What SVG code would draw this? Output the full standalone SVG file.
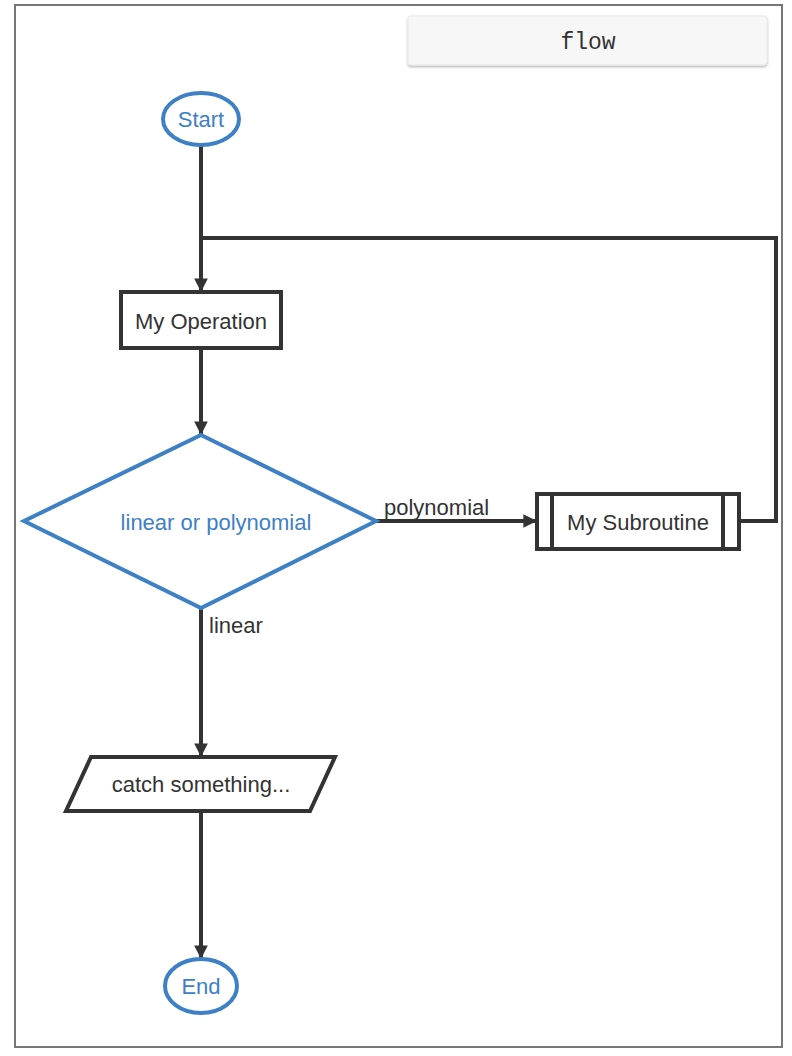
<svg xmlns="http://www.w3.org/2000/svg" width="792" height="1056" viewBox="0 0 792 1056">
<style>
.frame{fill:none;stroke:#777;stroke-width:2}
.blue{fill:#fff;stroke:#3d80c6;stroke-width:4}
.dark{fill:#fff;stroke:#333;stroke-width:4}
.line{fill:none;stroke:#333;stroke-width:4}
.tb{font-family:"Liberation Sans",Arial,sans-serif;font-size:22px;fill:#3d80c6;text-anchor:middle;dominant-baseline:central}
.td{font-family:"Liberation Sans",Arial,sans-serif;font-size:22px;fill:#333;text-anchor:middle;dominant-baseline:central}
.lbl{font-family:"Liberation Sans",Arial,sans-serif;font-size:22px;fill:#333}
.mono{font-family:"Liberation Mono","Courier New",monospace;font-size:23px;fill:#333;text-anchor:middle;dominant-baseline:central}
</style>
<defs>
<marker id="arr" viewBox="0 0 10 10" refX="10" refY="5" markerWidth="3.4" markerHeight="3.4" markerUnits="strokeWidth" orient="auto">
<path d="M0,0 L10,5 L0,10 z" fill="#333"/>
</marker>
<filter id="sh" x="-5%" y="-20%" width="110%" height="150%">
<feDropShadow dx="0" dy="1.5" stdDeviation="1" flood-color="#000" flood-opacity="0.3"/>
</filter>
</defs>
<rect class="frame" x="15" y="5" width="767" height="1042"/>
<g id="flow-button">
<rect x="408" y="16" width="359" height="49" rx="3" fill="#f7f7f7" stroke="#e8e8e8" stroke-width="1" filter="url(#sh)"/>
<text class="mono" x="588" y="43">flow</text>
</g>
<g id="connectors">
<path class="line" d="M201,145 L201,292" marker-end="url(#arr)"/>
<path class="line" d="M201,348 L201,435" marker-end="url(#arr)"/>
<path class="line" d="M376,521 L537,521" marker-end="url(#arr)"/>
<path class="line" d="M739,521 L776,521 L776,238 L201,238"/>
<path class="line" d="M201,608 L201,757" marker-end="url(#arr)"/>
<path class="line" d="M201,811 L201,959" marker-end="url(#arr)"/>
<text class="lbl" x="384" y="515">polynomial</text>
<text class="lbl" x="209" y="633">linear</text>
</g>
<g id="start">
<ellipse class="blue" cx="201" cy="119" rx="38" ry="26"/>
<text class="tb" x="201" y="119">Start</text>
</g>
<g id="operation">
<rect class="dark" x="121" y="292" width="160" height="56"/>
<text class="td" x="201" y="321">My Operation</text>
</g>
<g id="condition">
<polygon class="blue" points="201,435 376,521 201,608 24,521"/>
<text class="tb" x="216" y="522">linear or polynomial</text>
</g>
<g id="subroutine">
<rect class="dark" x="537" y="494" width="202" height="55"/>
<line class="line" x1="552" y1="494" x2="552" y2="549"/>
<line class="line" x1="723" y1="494" x2="723" y2="549"/>
<text class="td" x="638" y="522">My Subroutine</text>
</g>
<g id="input">
<polygon class="dark" points="91,757 335,757 310,811 66,811"/>
<text class="td" x="201" y="784">catch something...</text>
</g>
<g id="end">
<ellipse class="blue" cx="201" cy="986" rx="36" ry="27"/>
<text class="tb" x="201" y="986">End</text>
</g>
</svg>
